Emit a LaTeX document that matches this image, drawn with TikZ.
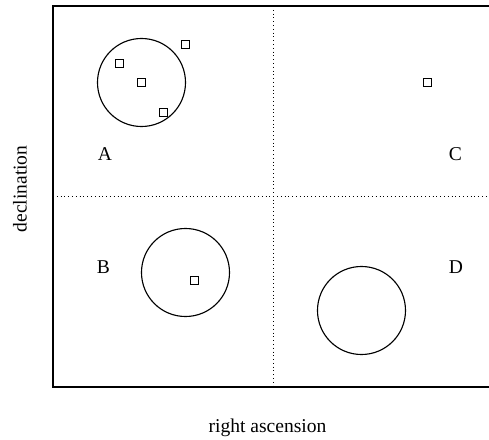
\documentclass[tikz,border=0pt]{standalone}
\usepackage{fontspec}
\setmainfont{Liberation Serif}
\usepackage{tikz}
\usetikzlibrary{positioning}
\tikzset{
    field/.style={circle, draw, line width=0.8pt, minimum size=2.2cm, inner sep=0pt},
    source/.style={rectangle, draw, line width=0.7pt, minimum size=0.2cm, inner sep=0pt},
    region/.style={font=\fontsize{13.9}{16}\selectfont, inner sep=0pt}
}

\begin{document}
\begin{tikzpicture}[x=0.025cm, y=-0.025cm]
    \useasboundingbox (0,0) rectangle (489,440);
    \begin{scope}
    \clip (0,0) rectangle (489,440);
    % Frame (right side runs off the page)
    \draw[line width=1.3pt] (495,6) -- (53,6) -- (53,387) -- (495,387);
    % Quadrant dividers
    \draw[dotted, line width=0.7pt] (273,6) -- (273,387);
    \draw[dotted, line width=0.7pt] (53,196) -- (495,196);
    \end{scope}

    % Fields
    \node[field] (fieldA) at (141.5,82.5) {};
    \node[field] (fieldB) at (185.5,272.5) {};
    \node[field] (fieldD) at (361.5,310.5) {};

    % Sources
    \node[source] (srcA1) at (185.5,44.5) {};
    \node[source] (srcA2) at (119.5,63.5) {};
    \node[source] (srcA3) at (141.5,82.5) {};
    \node[source] (srcA4) at (163.5,112.5) {};
    \node[source] (srcB1) at (194,280) {};
    \node[source] (srcC1) at (427,82.5) {};

    % Quadrant labels
    \node[region] (labA) at (105,154) {A};
    \node[region] (labB) at (103.5,267.5) {B};
    \node[region] (labC) at (455.5,154) {C};
    \node[region] (labD) at (456,267.5) {D};

    % Axis labels
    \node[region] (xlab) at (267.5,428) {right ascension};
    \node[region, rotate=90] (ylab) at (20,189) {declination};
\end{tikzpicture}
\end{document}
